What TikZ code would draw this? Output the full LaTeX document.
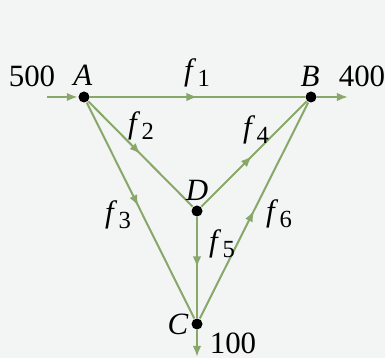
\documentclass[tikz,border=0pt]{standalone}
\usepackage{fontspec}
\setmainfont{Liberation Serif}
\usetikzlibrary{arrows.meta,decorations.markings}
\definecolor{edgegreen}{RGB}{136,168,106}
\definecolor{bggray}{RGB}{243,244,244}
\tikzset{
    % Node styles
    vertex/.style={circle, fill=black, minimum size=0.11cm, inner sep=0pt},
    lbl/.style={inner sep=0pt, font=\fontsize{8.8}{10}\selectfont},
    % Edge styles
    pipe/.style={edgegreen, line width=0.02cm},
    tip/.style={-{Latex[length=0.11cm, width=0.085cm]}},
    flow/.style={pipe, postaction={decorate},
                 decoration={markings, mark=at position #1 with
                 {\arrow{Latex[length=0.11cm, width=0.085cm]}}}},
    flow/.default=0.5,
}
\newcommand{\flw}[1]{\textit{f}\kern0.4pt\raisebox{-0.45ex}{\fontsize{7}{8}\selectfont #1}}

\begin{document}
\begin{tikzpicture}[x=0.01cm, y=-0.01cm]
    \fill[bggray] (0,0) rectangle (385,358);
    \useasboundingbox (0,0) rectangle (385,358);

    % Junctions
    \node[vertex] (A) at (84,97) {};
    \node[vertex] (B) at (311,97) {};
    \node[vertex] (D) at (197,211) {};
    \node[vertex] (C) at (197,324) {};
    \coordinate (in) at (47,97);
    \coordinate (outB) at (348,97);
    \coordinate (outC) at (197,357);

    % Pipes
    \draw[pipe, tip] (in) -- (A);
    \draw[pipe, tip] (B) -- (outB);
    \draw[pipe, tip] (C) -- (outC);
    \draw[flow] (A) -- (B);
    \draw[flow=0.5] (A) -- (D);
    \draw[flow=0.48] (A) -- (C);
    \draw[flow=0.48] (D) -- (B);
    \draw[flow=0.5] (D) -- (C);
    \draw[flow=0.5] (C) -- (B);

    % Labels
    \node[lbl] (vA) at (83,75) {\textit{A}};
    \node[lbl] (vB) at (310,76) {\textit{B}};
    \node[lbl] (vD) at (197,190) {\textit{D}};
    \node[lbl] (vC) at (178,324) {\textit{C}};
    \node[lbl] (qin) at (32,76) {500};
    \node[lbl] (qB) at (362,76) {400};
    \node[lbl] (qC) at (233,343) {100};
    \node[lbl] (f1) at (197,73) {\flw{1}};
    \node[lbl] (f2) at (141,126) {\flw{2}};
    \node[lbl] (f3) at (118,215) {\flw{3}};
    \node[lbl] (f4) at (256,130) {\flw{4}};
    \node[lbl] (f5) at (222,244) {\flw{5}};
    \node[lbl] (f6) at (279,214) {\flw{6}};
\end{tikzpicture}
\end{document}
